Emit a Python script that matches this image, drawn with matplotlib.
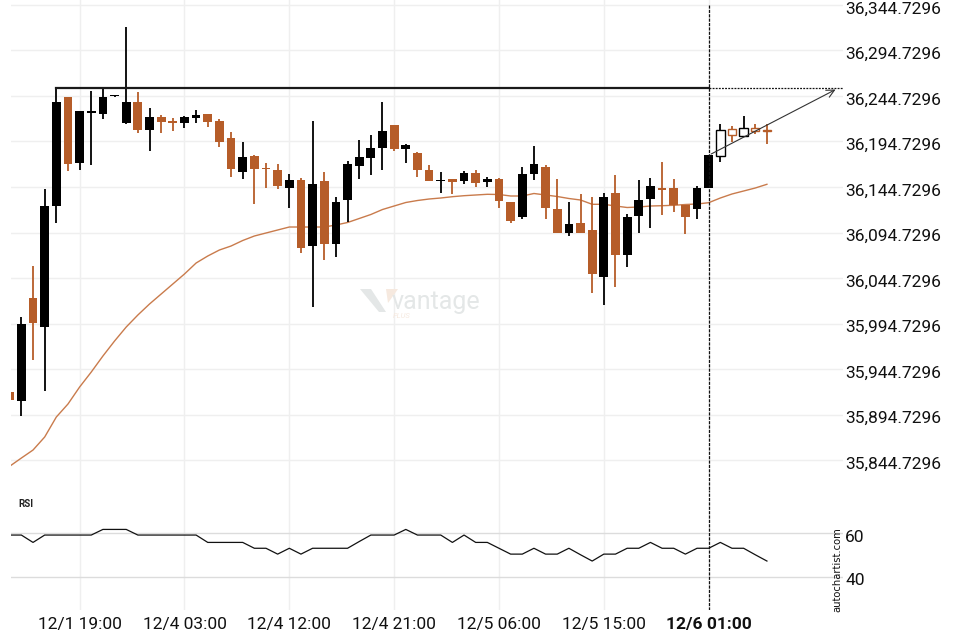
import matplotlib
matplotlib.use("Agg")
import matplotlib.pyplot as plt
from matplotlib.patches import Polygon
from matplotlib.transforms import ScaledTranslation

plt.rcParams['font.family'] = ['Roboto', 'DejaVu Sans']

# hourly candles, index 0..65
opens = [35919.46, 35909.90, 36022.75, 35991.21, 36123.85, 36243.96, 36171.43, 36226.05, 36224.95, 36244.18,
         36215.39, 36238.14, 36207.37, 36221.65, 36217.26, 36215.06, 36220.88, 36225.28, 36217.26, 36198.58,
         36161.54, 36178.80, 36165.61, 36163.41, 36143.96, 36152.75, 36080.23, 36151.32, 36082.42, 36130.77,
         36168.14, 36176.93, 36187.92, 36213.19, 36186.82, 36182.42, 36163.41, 36151.32, 36153.52, 36151.65,
         36160.11, 36149.89, 36153.52, 36128.25, 36111.76, 36159.35, 36166.71, 36120.55, 36094.18, 36105.17,
         36097.48, 36046.16, 36138.47, 36070.33, 36113.19, 36131.87, 36143.63, 36143.63, 36124.62, 36120.88,
         36143.96, 36179.13, 36208.14, 36200.44, 36209.89, 36207.37]
highs = [35919.46, 36001.54, 36057.92, 36142.86, 36254.62, 36243.96, 36228.25, 36250.22, 36254.29, 36245.28,
         36320.55, 36249.13, 36231.21, 36224.18, 36220.55, 36223.08, 36229.35, 36225.28, 36219.13, 36205.17,
         36194.18, 36179.90, 36170.77, 36169.68, 36158.69, 36154.95, 36216.93, 36161.21, 36133.41, 36173.30,
         36196.05, 36201.87, 36238.14, 36213.19, 36191.98, 36183.19, 36168.58, 36160.88, 36153.52, 36162.31,
         36163.41, 36155.39, 36154.62, 36128.25, 36166.38, 36189.78, 36168.91, 36153.19, 36128.25, 36136.71,
         36133.41, 36138.14, 36157.92, 36114.73, 36152.09, 36154.29, 36171.87, 36153.19, 36124.62, 36146.16,
         36179.90, 36213.96, 36211.43, 36222.75, 36213.63, 36213.63]
lows = [35910.66, 35893.08, 35954.62, 35920.55, 36105.50, 36161.98, 36163.41, 36168.91, 36219.13, 36243.63,
        36214.29, 36204.40, 36184.62, 36204.40, 36206.60, 36209.57, 36214.73, 36210.99, 36189.02, 36156.05,
        36153.19, 36125.72, 36143.96, 36142.20, 36121.98, 36071.87, 36013.19, 36064.18, 36067.48, 36105.94,
        36153.85, 36157.59, 36163.08, 36184.29, 36170.77, 36156.05, 36150.99, 36137.81, 36136.71, 36148.36,
        36145.06, 36145.06, 36121.98, 36105.50, 36109.57, 36152.75, 36109.24, 36094.18, 36091.21, 36094.18,
        36027.92, 36014.73, 36034.51, 36056.49, 36094.51, 36100.00, 36113.63, 36117.26, 36092.75, 36109.24,
        36143.63, 36172.53, 36194.18, 36200.44, 36202.64, 36191.65]
closes = [35910.66, 35994.18, 35995.61, 36123.85, 36238.14, 36170.00, 36228.25, 36228.25, 36243.63, 36244.60,
          36238.14, 36207.37, 36221.65, 36216.16, 36215.06, 36221.65, 36224.18, 36216.16, 36194.18, 36164.51,
          36177.70, 36164.51, 36164.51, 36145.83, 36152.42, 36078.03, 36148.03, 36082.42, 36128.25, 36170.00,
          36177.70, 36187.59, 36206.27, 36186.82, 36190.88, 36163.41, 36151.65, 36152.42, 36150.55, 36160.11,
          36149.46, 36153.19, 36129.35, 36107.37, 36159.02, 36170.33, 36121.65, 36094.18, 36103.74, 36094.18,
          36049.13, 36133.74, 36070.33, 36111.76, 36130.44, 36145.83, 36141.76, 36124.62, 36111.76, 36143.63,
          36179.57, 36207.04, 36201.54, 36209.24, 36206.60, 36206.27]

moving_avg = [35837.92, 35846.93, 35855.72, 35870.01, 35891.98, 35906.27, 35924.95, 35941.43, 35959.02, 35975.50,
              35990.88, 36004.07, 36016.16, 36027.15, 36038.14, 36049.13, 36061.21, 36068.91, 36075.50, 36079.89,
              36085.94, 36090.88, 36094.18, 36097.48, 36100.77, 36100.77, 36100.77, 36100.77, 36102.97, 36105.72,
              36110.11, 36114.51, 36120.00, 36123.85, 36127.70, 36129.89, 36131.54, 36132.64, 36134.07, 36135.17,
              36135.94, 36136.71, 36136.49, 36134.84, 36134.84, 36137.59, 36135.94, 36134.29, 36132.09, 36130.44,
              36125.72, 36125.72, 36123.85, 36122.20, 36122.75, 36123.85, 36124.18, 36124.62, 36125.50, 36126.05,
              36127.48, 36132.64, 36137.04, 36140.33, 36143.63, 36147.70]

rsi = [59.2, 59.2, 55.8, 59.2, 59.2, 59.2, 59.2, 59.2, 61.8, 61.8,
       61.8, 59.2, 59.2, 59.2, 59.2, 59.2, 59.2, 55.8, 55.8, 55.8,
       55.8, 53.1, 53.1, 50.4, 53.1, 50.4, 53.1, 53.1, 53.1, 53.1,
       56.2, 59.2, 59.2, 59.2, 61.8, 59.2, 59.2, 59.2, 55.8, 59.2,
       55.8, 55.8, 53.1, 50.4, 50.4, 53.1, 50.4, 50.4, 53.1, 50.1,
       47.2, 50.4, 50.4, 53.1, 53.1, 55.8, 53.1, 53.1, 50.4, 53.1,
       53.1, 55.8, 53.1, 53.1, 50.1, 47.2]

tick_idx = [6, 15, 24, 33, 42, 51, 60]
tick_labels = ["12/1 19:00", "12/4 03:00", "12/4 12:00", "12/4 21:00", "12/5 06:00", "12/5 15:00", "12/6 01:00"]
price_levels = [35844.7296 + 50 * i for i in range(11)]

resistance = 36253.5
pattern_start, pattern_end = 4, 60   # resistance line drawn between these candles
live_start = 61                      # hollow candles from here
arrow_target = (71.1, 36253.2)

UP = "#000000"
DOWN = "#b65d29"
MA_COL = "#c97b4c"
GRID = "#efefef"

fig = plt.figure(figsize=(9.6, 6.4), dpi=100)
ax = fig.add_axes([11 / 960, 150 / 640, 832 / 960, 490 / 640])
rax = fig.add_axes([11 / 960, 30 / 640, 832 / 960, 120 / 640], sharex=ax)

for a in (ax, rax):
    for s in a.spines.values():
        s.set_visible(False)
    a.set_xticks(tick_idx)
    a.grid(axis="x", color=GRID, lw=1)
    a.set_axisbelow(True)

ax.set_xlim(0.11, 71.53)
ax.set_ylim(35811.8, 36350.2)
rax.set_ylim(24.6, 80)

# price axis
ax.yaxis.tick_right()
ax.set_yticks(price_levels)
ax.set_yticklabels([f"{v:,.4f}" for v in price_levels])
ax.grid(axis="y", color=GRID, lw=1)
ax.tick_params(axis="y", length=0, pad=1.5, labelsize=12.5, colors="#111111")
ax.tick_params(axis="x", length=0, labelbottom=False)

# candles
n = len(opens)
for i in range(n):
    o, h, l, c = opens[i], highs[i], lows[i], closes[i]
    col = UP if c >= o else DOWN
    lo, hi = min(o, c), max(o, c)
    hgt = max(hi - lo, 1.6)
    ax.vlines(i, l, h, color=col, lw=1.3, zorder=2)
    if i >= live_start:
        ax.bar(i, hgt, bottom=lo, width=0.72, facecolor="white", edgecolor=col, lw=1.0, zorder=3)
    else:
        ax.bar(i, hgt, bottom=lo, width=0.75, color=col, lw=0, zorder=3)

ax.plot(range(n), moving_avg, color=MA_COL, lw=1.0, zorder=1.5)

# pattern lines
ax.plot([pattern_start, pattern_end], [resistance, resistance], color="#1a1a1a", lw=1.6, zorder=4)
ax.plot([pattern_end, 71.5], [resistance, resistance], color="#111111", lw=0.9, ls=(0, (1.5, 1)), zorder=4)
ax.plot([pattern_end, pattern_end], [price_levels[-1], 35811.8], color="#111111", lw=0.9,
        ls=(0, (2.5, 1)), zorder=4)
ax.annotate("", xy=arrow_target, xytext=(pattern_end, closes[pattern_end]),
            arrowprops=dict(arrowstyle="->", color="#333333", lw=0.8, mutation_scale=14), zorder=5)

# RSI panel
rax.plot(range(n), rsi, color="#111111", lw=0.9)
rax.axvline(pattern_end, color="#111111", lw=0.9, ls=(0, (2.5, 1)))
rax.yaxis.tick_right()
rax.set_yticks([40, 60])
rax.set_yticklabels(["40", "60"])
rax.grid(axis="y", color="#dcdcdc", lw=1)
rax.tick_params(axis="y", length=0, pad=1.5, labelsize=12.5, colors="#111111")
rax.set_xticks(tick_idx)
rax.set_xticklabels(tick_labels)
rax.tick_params(axis="x", length=0, pad=5, labelsize=12.5, colors="#111111")
rax.get_xticklabels()[-1].set_fontweight("bold")
rax.text(7 / 832, 0.86, "RSI", transform=rax.transAxes, fontsize=7, fontweight="bold", color="#222222")

# right-side labels sit a little below their grid lines
shift = ScaledTranslation(0, -0.025, fig.dpi_scale_trans)
for lab in ax.get_yticklabels() + rax.get_yticklabels():
    lab.set_transform(lab.get_transform() + shift)

fig.text(837.5 / 960, 1 - 570 / 640, "autochartist.com", rotation=90, ha="center", va="center",
         fontsize=7.2, color="#111111", family=["DejaVu Sans"])

# watermark
def px(x, y):
    return (x / 960, 1 - y / 640)

fig.patches.append(Polygon([px(360, 289), px(371, 289), px(386, 312), px(379, 312)],
                           closed=True, transform=fig.transFigure, facecolor="#e4e7e7", edgecolor="none"))
fig.patches.append(Polygon([px(386, 289), px(398, 289), px(388, 303)],
                           closed=True, transform=fig.transFigure, facecolor="#f6e9df", edgecolor="none"))
fig.text(436 / 960, 1 - 302 / 640, "vantage", ha="center", va="center", fontsize=18,
         color="#e4e7e7")
fig.text(393 / 960, 1 - 316 / 640, "PLUS", ha="left", va="center", fontsize=5.5,
         color="#f6e9df", style="italic")

fig.savefig("out.png", dpi=100)
